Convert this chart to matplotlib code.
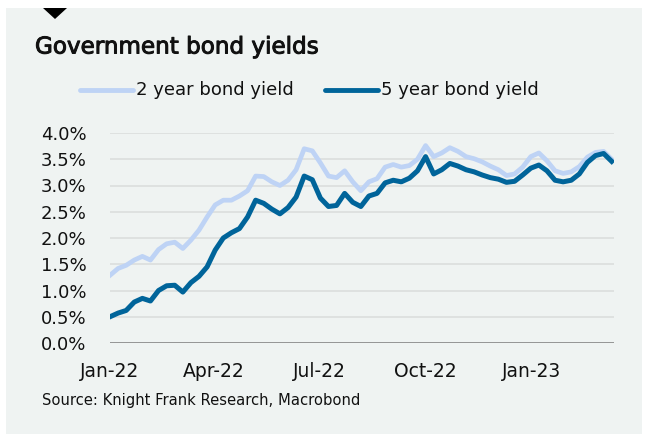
import pandas as pd
import matplotlib.pyplot as plt
from matplotlib.patches import Rectangle, Polygon
from matplotlib.lines import Line2D
import matplotlib.dates as mdates
import matplotlib.patheffects as pe
from matplotlib.ticker import FuncFormatter

# Weekly yields (%), Jan 2022 - Mar 2023
yield_2y = [1.29, 1.42, 1.48, 1.58, 1.65, 1.58, 1.78, 1.89, 1.92, 1.80,
            1.96, 2.15, 2.40, 2.63, 2.72, 2.72, 2.80, 2.90, 3.18, 3.17,
            3.07, 3.00, 3.10, 3.30, 3.70, 3.66, 3.43, 3.18, 3.15, 3.28,
            3.07, 2.90, 3.07, 3.13, 3.35, 3.40, 3.35, 3.38, 3.50, 3.76,
            3.55, 3.62, 3.72, 3.65, 3.55, 3.51, 3.45, 3.37, 3.30, 3.19,
            3.22, 3.35, 3.55, 3.62, 3.47, 3.28, 3.23, 3.26, 3.36, 3.54,
            3.63, 3.65, 3.50]
yield_5y = [0.50, 0.57, 0.62, 0.78, 0.85, 0.80, 1.00, 1.09, 1.10, 0.97,
            1.15, 1.27, 1.45, 1.77, 2.00, 2.10, 2.18, 2.40, 2.72, 2.66,
            2.55, 2.46, 2.58, 2.78, 3.18, 3.11, 2.76, 2.60, 2.62, 2.85,
            2.68, 2.60, 2.80, 2.85, 3.05, 3.10, 3.07, 3.14, 3.28, 3.55,
            3.22, 3.30, 3.42, 3.37, 3.30, 3.26, 3.20, 3.15, 3.12, 3.06,
            3.08, 3.20, 3.33, 3.39, 3.28, 3.10, 3.07, 3.10, 3.22, 3.44,
            3.57, 3.61, 3.46]
dates = pd.date_range('2022-01-01', periods=len(yield_2y), freq='7D')

tick_dates = pd.to_datetime(['2022-01-01', '2022-04-01', '2022-07-01',
                             '2022-10-01', '2023-01-01'])
series_labels = ['2 year bond yield', '5 year bond yield']

LIGHT = '#bed3f5'
DARK = '#00649a'
PANEL = '#eff3f2'

plt.rcParams['font.family'] = 'DejaVu Sans'

W, H = 647, 434
fig = plt.figure(figsize=(W / 100, H / 100), dpi=100)
fig.patch.set_facecolor('white')

# grey card behind everything
fig.add_artist(Rectangle((6 / W, 0), 636 / W, 426 / H, transform=fig.transFigure,
                         facecolor=PANEL, edgecolor='none', zorder=0))
fig.add_artist(Polygon([(43 / W, 1 - 8 / H), (67 / W, 1 - 8 / H), (55 / W, 1 - 19 / H)],
                       closed=True, transform=fig.transFigure,
                       facecolor='black', edgecolor='none', zorder=1))

# medium-weight title: regular face with a thin stroke
fig.text(35 / W, 1 - 47 / H, 'Government bond yields', fontsize=16.6,
         va='center', ha='left', color='#111111',
         path_effects=[pe.withStroke(linewidth=0.7, foreground='#111111')])

# legend drawn by hand
for (x0, x1, tx), lab, col in zip([(80, 133, 136), (325, 378, 381)], series_labels, [LIGHT, DARK]):
    fig.add_artist(Line2D([x0 / W, x1 / W], [1 - 90 / H] * 2, transform=fig.transFigure,
                          color=col, lw=3.5, solid_capstyle='round'))
    fig.text(tx / W, 1 - 90 / H, lab, fontsize=13, va='center', ha='left', color='#111111')

ax = fig.add_axes([110 / W, 91 / H, 504 / W, 210 / H])
ax.set_facecolor('none')

ax.plot(dates, yield_2y, color=LIGHT, lw=3.4, solid_joinstyle='round', zorder=3)
ax.plot(dates, yield_5y, color=DARK, lw=3.6, solid_joinstyle='round', zorder=4)

ax.set_ylim(0, 4.0)
ax.set_yticks([i * 0.5 for i in range(9)])
ax.yaxis.set_major_formatter(FuncFormatter(lambda v, p: f'{v:.1f}%'))
ax.set_xlim(dates[0], dates[-1] + pd.Timedelta(days=2))
ax.set_xticks(tick_dates)
ax.xaxis.set_major_formatter(mdates.DateFormatter('%b-%y'))

for v in ax.get_yticks()[1:]:
    ax.axhline(v, color='#d9dcdb', lw=1.1, zorder=1)
ax.axhline(0, color='#7c7c7c', lw=1.1, zorder=2)

for s in ax.spines.values():
    s.set_visible(False)
ax.tick_params(axis='both', length=0, labelsize=13, colors='#111111')
ax.tick_params(axis='y', pad=17)
ax.tick_params(axis='x', pad=14)
for lab in ax.get_xticklabels():
    lab.set_fontsize(13.5)

fig.text(42 / W, 1 - 400 / H, 'Source: Knight Frank Research, Macrobond',
         fontsize=10.6, va='center', ha='left', color='#111111')

fig.savefig('out.png', dpi=100)
